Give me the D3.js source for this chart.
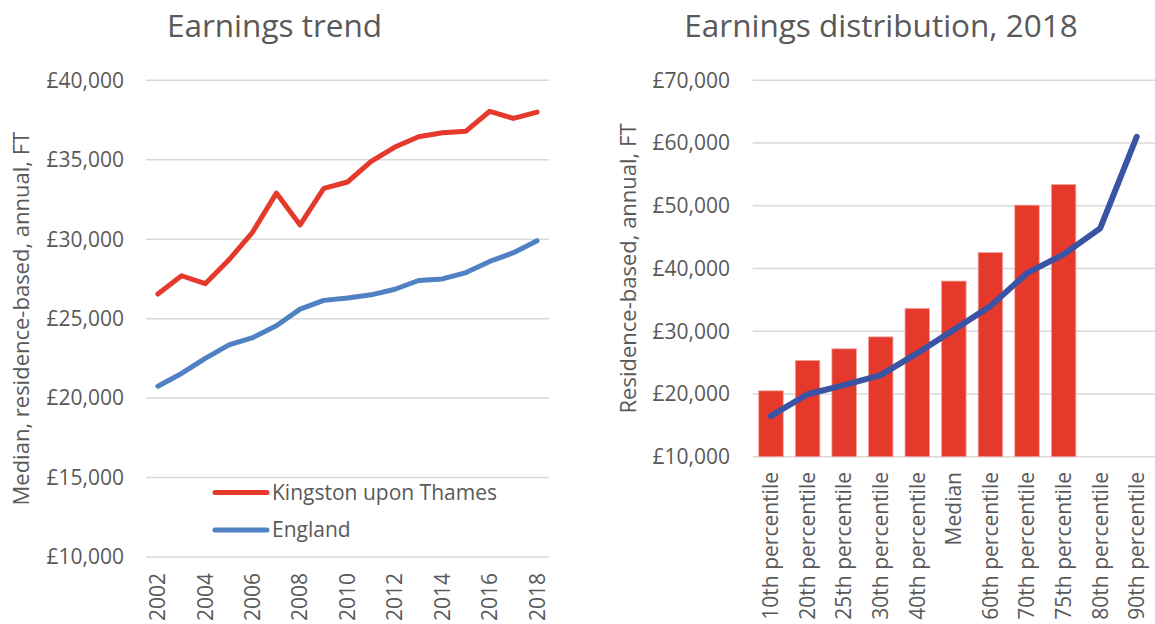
<!DOCTYPE html>
<html>
<head>
<meta charset="utf-8">
<script src="https://cdn.jsdelivr.net/npm/d3@7"></script>
<style>
  body { margin: 0; background: #fff; }
  svg text { font-family: "Open Sans", sans-serif; fill: #595959; }
</style>
</head>
<body>
<svg id="chart" width="1155" height="624"></svg>
<script>
// Earnings trend (median annual FT, residence-based)
const years = d3.range(2002, 2019);
const kingston = [26550, 27700, 27200, 28700, 30450, 32900, 30900, 33200, 33600,
                  34900, 35800, 36450, 36700, 36800, 38050, 37600, 38000];
const england = [20750, 21550, 22500, 23350, 23800, 24550, 25600, 26150, 26300,
                 26500, 26850, 27400, 27500, 27900, 28600, 29150, 29900];
const trendTicks = [10000, 15000, 20000, 25000, 30000, 35000, 40000];
const yearTicks = [2002, 2004, 2006, 2008, 2010, 2012, 2014, 2016, 2018];

// Earnings distribution, 2018
const percentiles = ["10th percentile", "20th percentile", "25th percentile", "30th percentile",
                     "40th percentile", "Median", "60th percentile", "70th percentile",
                     "75th percentile", "80th percentile", "90th percentile"];
const kingstonDist = [20500, 25350, 27200, 29100, 33650, 38000, 42550, 50100, 53400, null, null];
const englandDist = [16500, 19950, 21400, 23000, 26500, 30250, 34000, 39250, 42250, 46400, 61000];
const distTicks = [10000, 20000, 30000, 40000, 50000, 60000, 70000];

const RED = '#e53a2b', BLUE = '#4f81c3', DARKBLUE = '#3a53a4', GRID = '#d9d9d9';
const fmt = d => '£' + d3.format(',')(d);

const svg = d3.select('#chart');

// ---------- left chart ----------
const x1 = d3.scaleBand().domain(years).range([146, 549]);
const y1 = d3.scaleLinear().domain([10000, 40000]).range([557, 80.3]);
const left = svg.append('g');

left.append('text')
    .attr('x', 274.5).attr('y', 36.5)
    .attr('text-anchor', 'middle')
    .style('font-size', '31.5px')
    .text('Earnings trend');

left.append('g').selectAll('line')
    .data(trendTicks)
    .enter().append('line')
    .attr('x1', 146).attr('x2', 549)
    .attr('y1', d => y1(d)).attr('y2', d => y1(d))
    .attr('stroke', GRID).attr('stroke-width', 1.5);

left.append('g').selectAll('text')
    .data(trendTicks)
    .enter().append('text')
    .attr('x', 124).attr('y', d => y1(d))
    .attr('dy', '0.35em')
    .attr('text-anchor', 'end')
    .style('font-size', '21px')
    .text(fmt);

left.append('g').selectAll('text')
    .data(yearTicks)
    .enter().append('text')
    .attr('transform', d => `translate(${x1(d) + x1.bandwidth() / 2},573) rotate(-90)`)
    .attr('dy', '0.35em')
    .attr('text-anchor', 'end')
    .style('font-size', '21px')
    .text(d => d);

left.append('text')
    .attr('transform', `translate(21.5,${(80.3 + 557) / 2}) rotate(-90)`)
    .attr('dy', '0.35em')
    .attr('text-anchor', 'middle')
    .style('font-size', '22px')
    .text('Median, residence-based, annual, FT');

const line1 = d3.line()
    .x((d, i) => x1(years[i]) + x1.bandwidth() / 2)
    .y(d => y1(d));

[[england, BLUE], [kingston, RED]].forEach(([vals, col]) => {
    left.append('path')
        .attr('d', line1(vals))
        .attr('fill', 'none')
        .attr('stroke', col)
        .attr('stroke-width', 5)
        .attr('stroke-linejoin', 'round')
        .attr('stroke-linecap', 'round');
});

// legend
const legendItems = [['Kingston upon Thames', RED, 492.5], ['England', BLUE, 530]];
legendItems.forEach(([label, col, yy]) => {
    left.append('line')
        .attr('x1', 215).attr('x2', 267)
        .attr('y1', yy).attr('y2', yy)
        .attr('stroke', col).attr('stroke-width', 5)
        .attr('stroke-linecap', 'round');
    left.append('text')
        .attr('x', 272).attr('y', yy)
        .attr('dy', '0.35em')
        .style('font-size', '21px')
        .text(label);
});

// ---------- right chart ----------
const x2 = d3.scaleBand().domain(percentiles).range([752.7, 1155]);
const y2 = d3.scaleLinear().domain([10000, 70000]).range([456.7, 80.3]);
const right = svg.append('g');

right.append('text')
    .attr('x', 881).attr('y', 36.5)
    .attr('text-anchor', 'middle')
    .style('font-size', '31.5px')
    .text('Earnings distribution, 2018');

right.append('g').selectAll('line')
    .data(distTicks)
    .enter().append('line')
    .attr('x1', 752.7).attr('x2', 1155)
    .attr('y1', d => y2(d)).attr('y2', d => y2(d))
    .attr('stroke', GRID).attr('stroke-width', 1.5);

right.append('g').selectAll('text')
    .data(distTicks)
    .enter().append('text')
    .attr('x', 730).attr('y', d => y2(d))
    .attr('dy', '0.35em')
    .attr('text-anchor', 'end')
    .style('font-size', '21px')
    .text(fmt);

right.append('g').selectAll('text')
    .data(percentiles)
    .enter().append('text')
    .attr('transform', d => `translate(${x2(d) + x2.bandwidth() / 2},472) rotate(-90)`)
    .attr('dy', '0.35em')
    .attr('text-anchor', 'end')
    .style('font-size', '21px')
    .text(d => d);

right.append('text')
    .attr('transform', `translate(628,${(80.3 + 456.7) / 2}) rotate(-90)`)
    .attr('dy', '0.35em')
    .attr('text-anchor', 'middle')
    .style('font-size', '22px')
    .text('Residence-based, annual, FT');

const barW = x2.bandwidth() * 0.67;
right.append('g').selectAll('rect')
    .data(percentiles.map((p, i) => ({ p, v: kingstonDist[i] })).filter(d => d.v != null))
    .enter().append('rect')
    .attr('x', d => x2(d.p) + (x2.bandwidth() - barW) / 2)
    .attr('width', barW)
    .attr('y', d => y2(d.v))
    .attr('height', d => y2(10000) - y2(d.v))
    .attr('fill', RED)
    .attr('stroke', '#f0a59e')
    .attr('stroke-width', 0.8);

const line2 = d3.line()
    .x((d, i) => x2(percentiles[i]) + x2.bandwidth() / 2)
    .y(d => y2(d));

right.append('path')
    .attr('d', line2(englandDist))
    .attr('fill', 'none')
    .attr('stroke', DARKBLUE)
    .attr('stroke-width', 6)
    .attr('stroke-linejoin', 'round')
    .attr('stroke-linecap', 'round');
</script>
</body>
</html>
